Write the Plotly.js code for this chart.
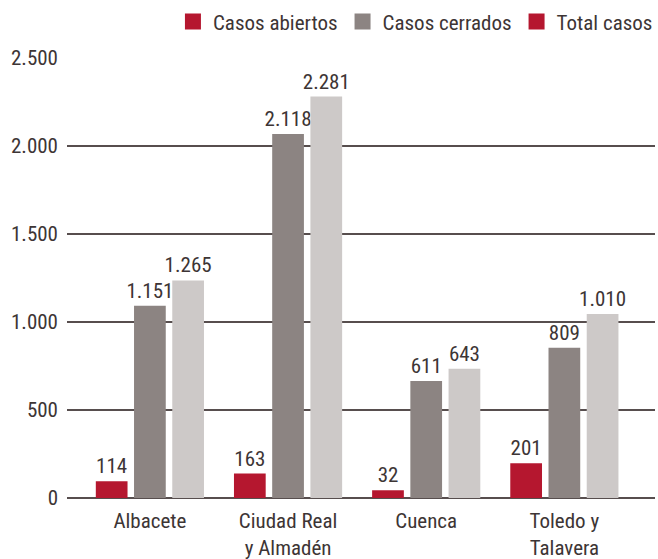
<!DOCTYPE html>
<html>
<head>
<meta charset="utf-8">
<script src="https://cdn.plot.ly/plotly-3.0.1.min.js"></script>
<style>
html,body{margin:0;padding:0;background:#fff;}
#chart{width:658px;height:559px;}
</style>
</head>
<body>
<div id="chart"></div>
<script>
// Categories (x axis)
var categories = ["Albacete", "Ciudad Real<br>y Almadén", "Cuenca", "Toledo y<br>Talavera"];
// Series names
var seriesNames = ["Casos abiertos", "Casos cerrados", "Total casos"];
// Bar heights as drawn in the picture
var casosAbiertos = [95, 139, 44, 198];
var casosCerrados = [1093, 2068, 665, 854];
var totalCasos = [1236, 2281, 734, 1046];
// Value labels printed above the bars
var labelsAbiertos = [114, 163, 32, 201];
var labelsCerrados = [1151, 2118, 611, 809];
var labelsTotal = [1265, 2281, 643, 1010];
// Y axis ticks
var yTicks = [0, 500, 1000, 1500, 2000, 2500];

var FONT = "Roboto Condensed, Roboto, sans-serif";
var FS = 21;
var TXT = "#3d3535";
var RED = "#b5172f", GREY = "#8c8482", LIGHT = "#cdc9c8";

function fmt(n){ return String(n).replace(/\B(?=(\d{3})+(?!\d))/g, "."); }

function barTrace(vals, labels, color, name){
  return {
    type: "bar", x: categories, y: vals, name: name, showlegend: false,
    marker: {color: color},
    text: labels.map(fmt), textposition: "outside", textangle: 0,
    constraintext: "none", cliponaxis: false,
    textfont: {family: FONT, size: FS, color: TXT},
    hoverinfo: "skip"
  };
}
function legendTrace(color, name){
  return {
    type: "scatter", mode: "markers", x: [null], y: [null], name: name,
    marker: {symbol: "square", size: 16, color: color}, hoverinfo: "skip"
  };
}

var data = [
  barTrace(casosAbiertos, labelsAbiertos, RED, seriesNames[0]),
  barTrace(casosCerrados, labelsCerrados, GREY, seriesNames[1]),
  barTrace(totalCasos, labelsTotal, LIGHT, seriesNames[2]),
  legendTrace(RED, seriesNames[0]),
  legendTrace(GREY, seriesNames[1]),
  legendTrace(RED, seriesNames[2])
];

var layout = {
  width: 658, height: 559,
  margin: {l: 67, r: 0, t: 58, b: 61, pad: 0},
  paper_bgcolor: "#fff", plot_bgcolor: "#fff",
  separators: ",.",
  font: {family: FONT, size: FS, color: TXT},
  barmode: "group", bargap: 0.17, bargroupgap: 0.17,
  showlegend: true,
  legend: {orientation: "h", x: 1.005, xanchor: "right", y: 1.082, yanchor: "middle",
           font: {family: FONT, size: FS, color: TXT}, itemsizing: "trace",
           traceorder: "normal", bgcolor: "rgba(0,0,0,0)", itemwidth: 30},
  xaxis: {type: "category", range: [-0.6, 3.656], showgrid: false, zeroline: false,
          showline: false, ticks: "", ticklabelstandoff: 8,
          tickfont: {family: FONT, size: FS, color: TXT}, fixedrange: true},
  yaxis: {range: [0, 2500], tickvals: yTicks, tickformat: ",", showgrid: true,
          gridcolor: "#574e4e", gridwidth: 1.3, zeroline: true, zerolinecolor: "#574e4e",
          zerolinewidth: 1.3, showline: false, ticks: "", ticklabelstandoff: 8,
          tickfont: {family: FONT, size: FS, color: TXT}, fixedrange: true}
};

Plotly.newPlot("chart", data, layout, {displayModeBar: false, staticPlot: true});
</script>
</body>
</html>
